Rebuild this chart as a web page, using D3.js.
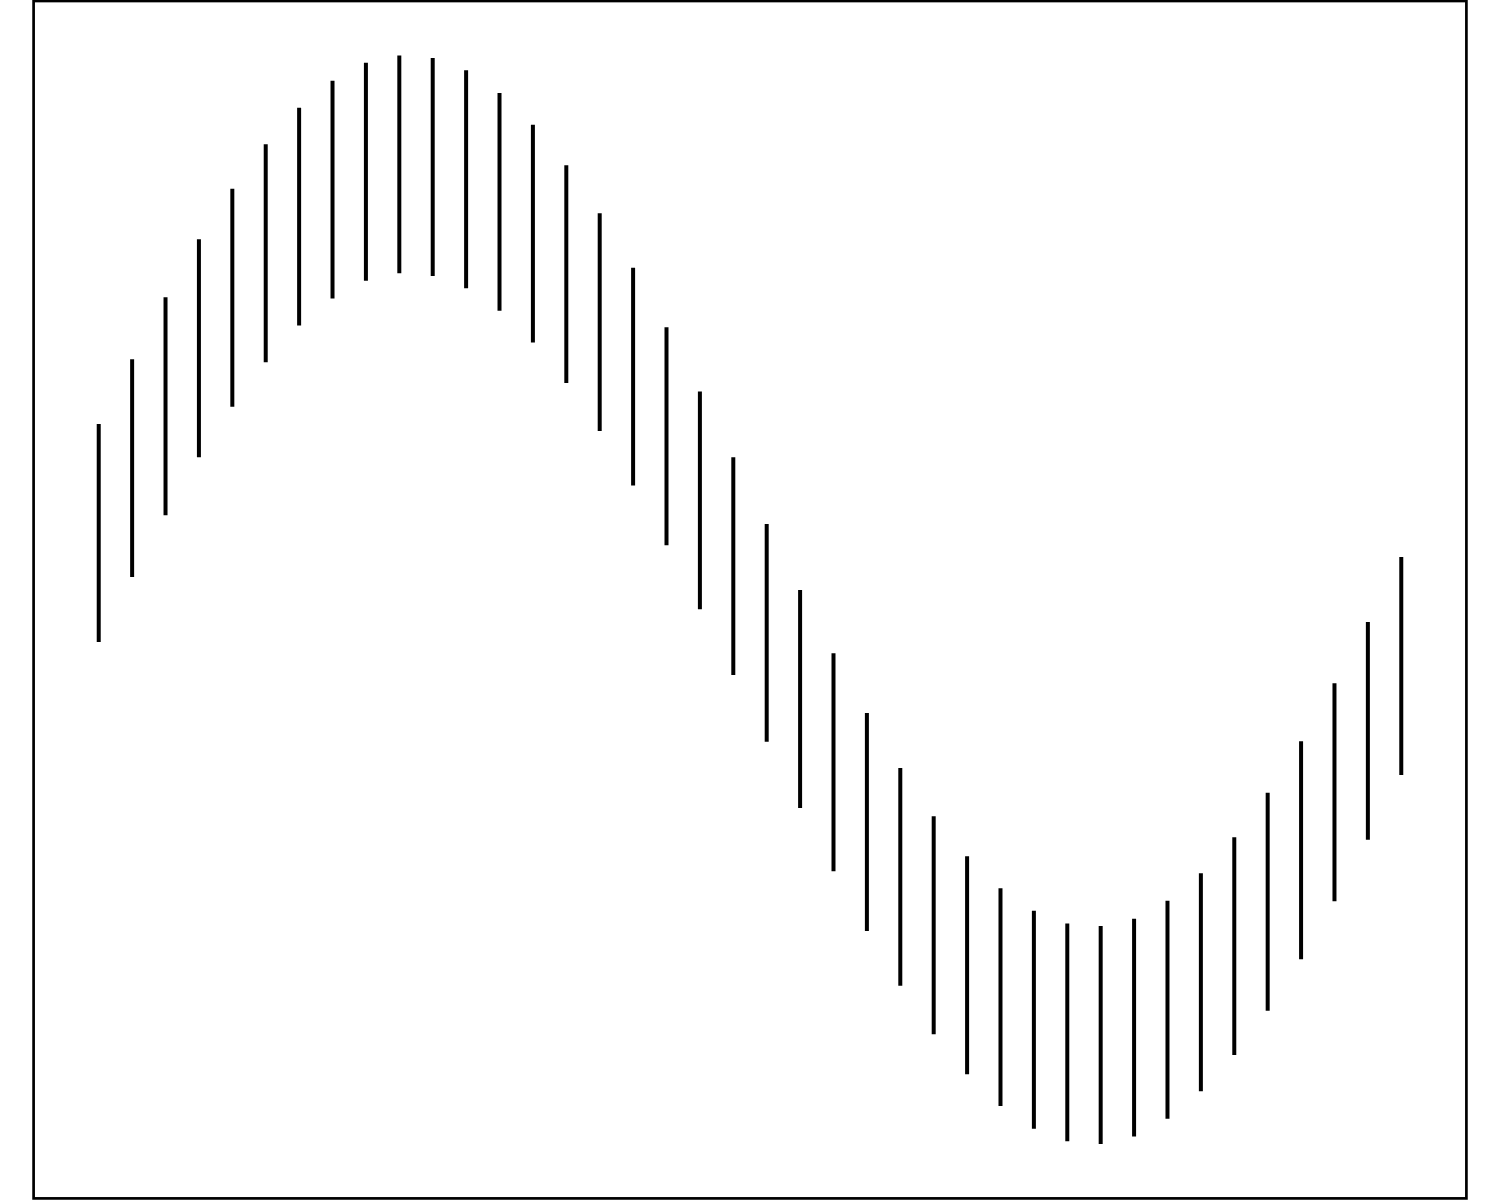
<!DOCTYPE html>
<html>
<head>
<meta charset="utf-8">
<script src="https://cdn.jsdelivr.net/npm/d3@7"></script>
<style>
  body { margin: 0; background: #fff; }
  svg { display: block; }
</style>
</head>
<body>
<div id="container"></div>
<script>
/* DATA */
const xValues = [1, 2, 3, 4, 5, 6, 7, 8, 9, 10,
  11, 12, 13, 14, 15, 16, 17, 18, 19, 20,
  21, 22, 23, 24, 25, 26, 27, 28, 29, 30,
  31, 32, 33, 34, 35, 36, 37, 38, 39, 40];

const yValues = [0.153, 0.302, 0.444, 0.577, 0.693, 0.795, 0.879, 0.941, 0.982, 0.999,
  0.993, 0.965, 0.913, 0.840, 0.747, 0.637, 0.512, 0.375, 0.228, 0.077,
  -0.076, -0.228, -0.373, -0.510, -0.636, -0.747, -0.839, -0.912, -0.964, -0.993,
  -0.999, -0.982, -0.941, -0.878, -0.795, -0.693, -0.575, -0.442, -0.301, -0.152];

// half length of every vertical bar
const yErr = [0.25];

/* CONSTANTS */
const width = 1500,
  height = 1200,
  plotLeft = 33.6, plotRight = 1466.4,
  plotTop = 1.0, plotBottom = 1198.4;

const data = xValues.map((x, i) => ({ x: x, y: yValues[i] }));

const svg = d3.select("#container").append("svg")
  .attr("width", width)
  .attr("height", height);

/* SCALES (5% padding like the original) */
const xMin = d3.min(xValues), xMax = d3.max(xValues);
const xPad = (xMax - xMin) * 0.05;
const xScale = d3.scaleLinear()
  .domain([xMin - xPad, xMax + xPad])
  .range([plotLeft, plotRight]);

const yLo = d3.min(yValues) - yErr[0], yHi = d3.max(yValues) + yErr[0];
const yPad = (yHi - yLo) * 0.05;
const yScale = d3.scaleLinear()
  .domain([yLo - yPad, yHi + yPad])
  .range([plotBottom, plotTop]);

/* BARS */
svg.selectAll("line.bar")
  .data(data)
  .join("line")
  .attr("class", "bar")
  .attr("x1", d => xScale(d.x))
  .attr("x2", d => xScale(d.x))
  .attr("y1", d => yScale(d.y - yErr[0]))
  .attr("y2", d => yScale(d.y + yErr[0]))
  .attr("stroke", "#000")
  .attr("stroke-width", 4);

/* FRAME */
svg.append("rect")
  .attr("x", plotLeft)
  .attr("y", plotTop)
  .attr("width", plotRight - plotLeft)
  .attr("height", plotBottom - plotTop)
  .attr("fill", "none")
  .attr("stroke", "#000")
  .attr("stroke-width", 2.7);
</script>
</body>
</html>
